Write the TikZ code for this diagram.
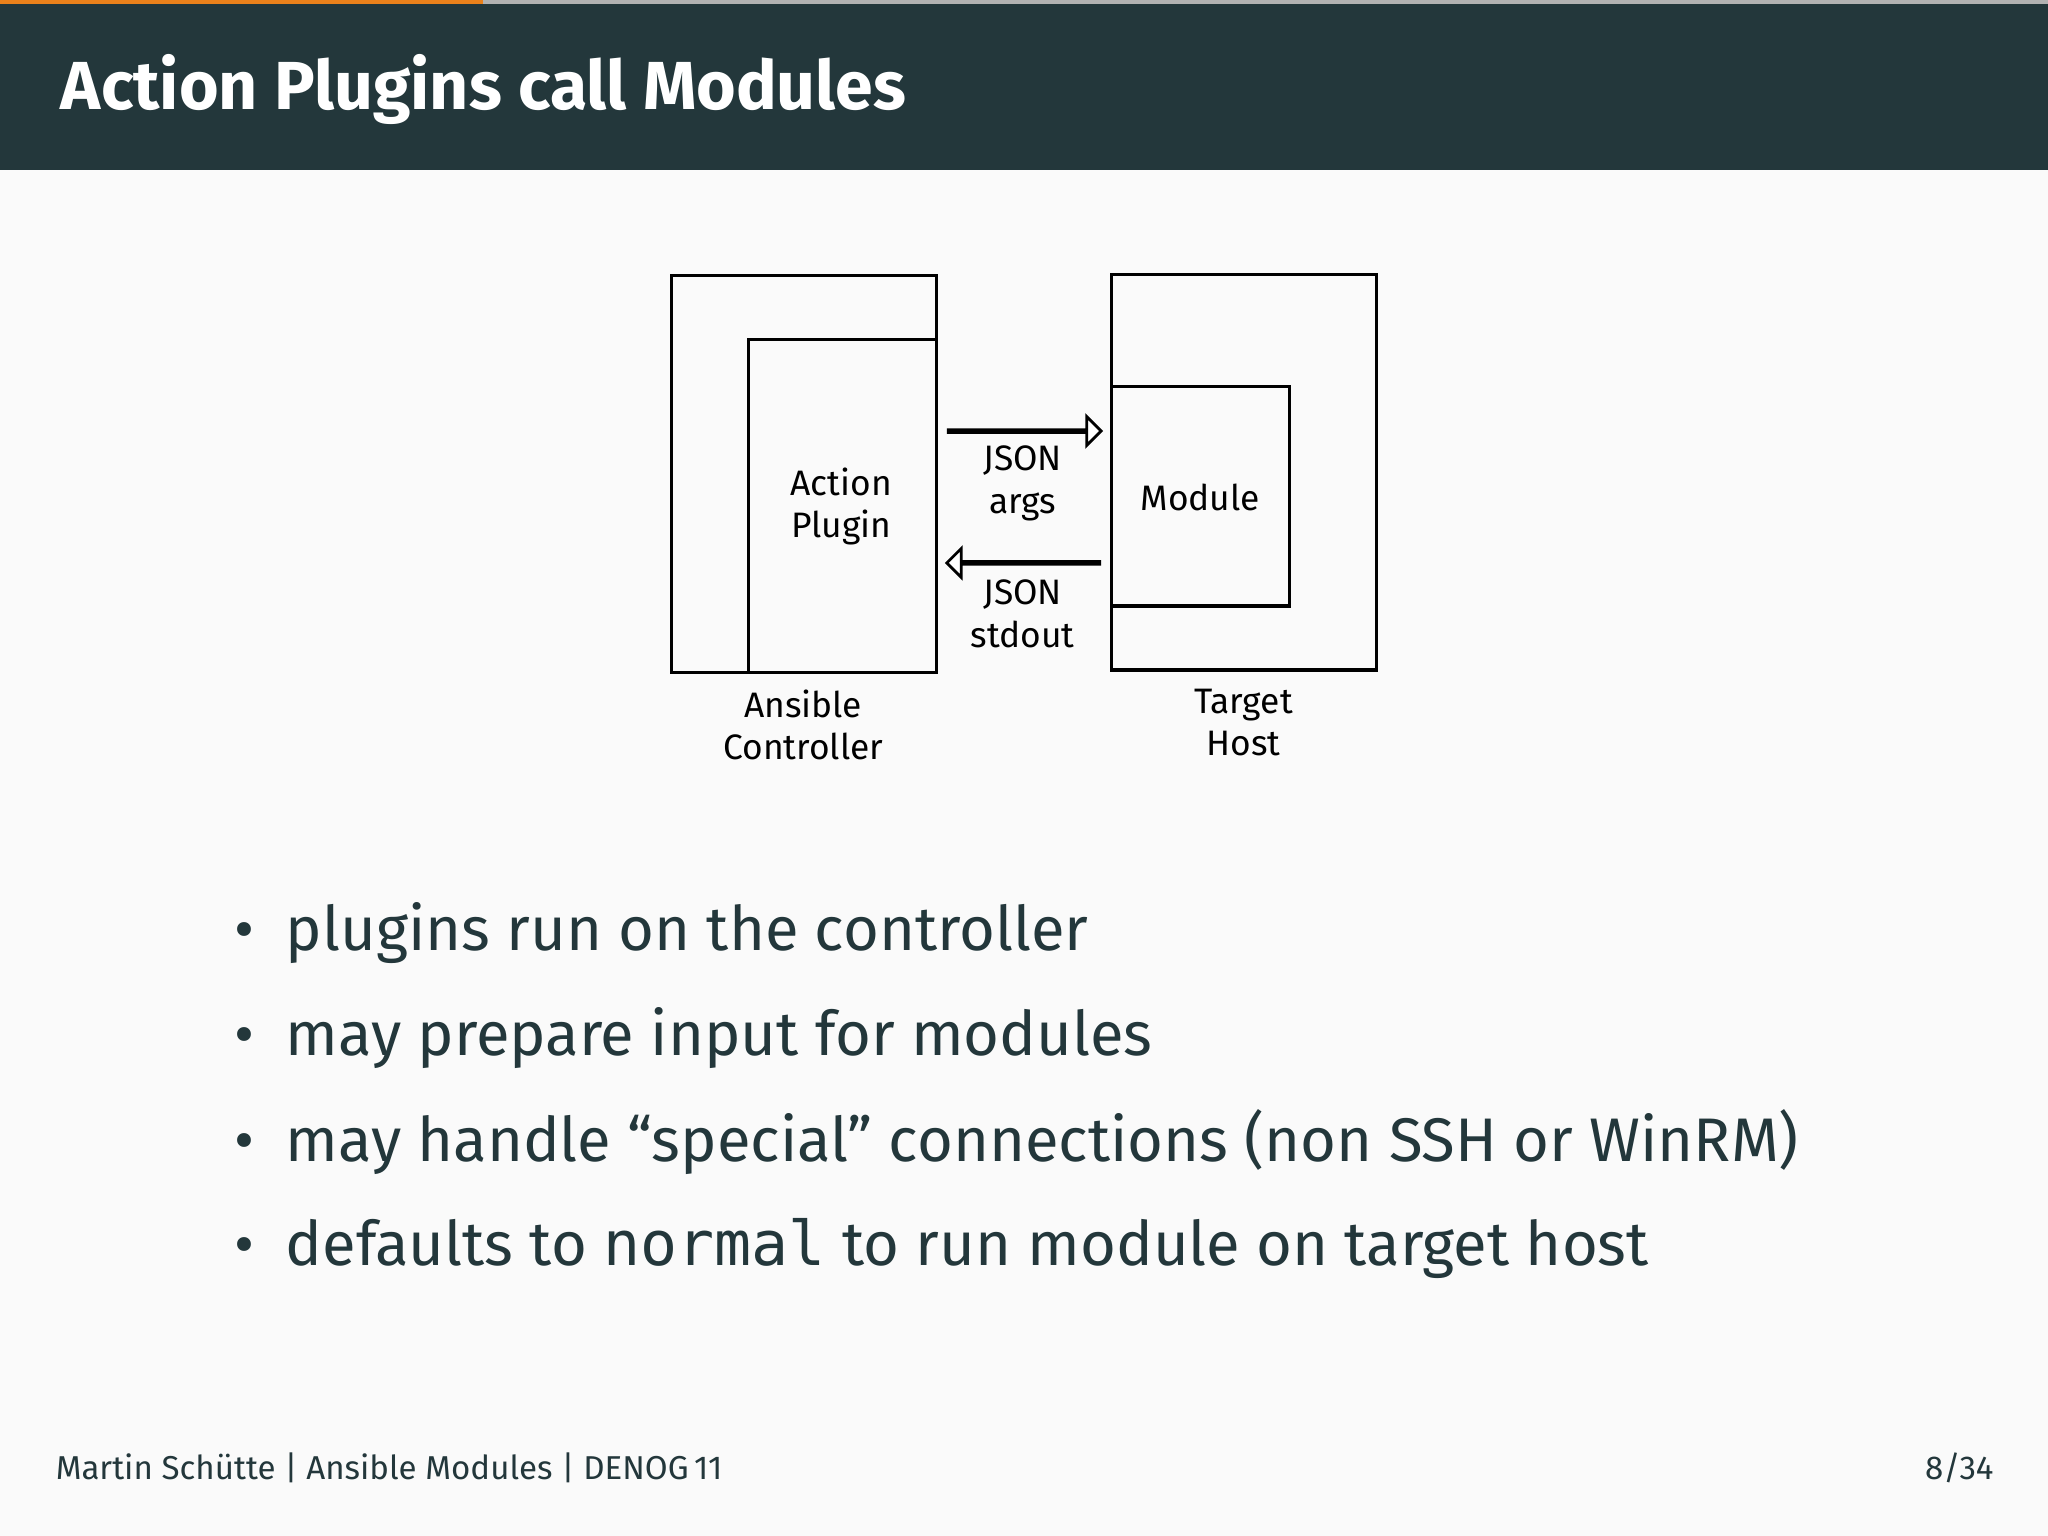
\documentclass[tikz,border=0pt]{standalone}
\usepackage{fontspec}
\setmainfont{Fira Sans}
\setmonofont{DejaVu Sans Mono}
\usetikzlibrary{shapes.arrows}
\definecolor{bgcol}{HTML}{FAFAFA}
\definecolor{barcol}{HTML}{23373B}
\definecolor{progcol}{HTML}{EB811B}
\tikzstyle{boxes} = [rectangle, draw=black, line width=0.7pt]
\tikzstyle{label} = [align=center, font=\fontsize{7.7}{9.2}\selectfont, text=black]
\tikzstyle{flow} = [single arrow, draw=black, line width=0.6pt, fill=white, minimum height=1.17cm, minimum width=0.09cm, single arrow head extend=0.1cm, inner sep=0pt]
\tikzstyle{bullet} = [anchor=base west, inner sep=0pt, font=\fontsize{13.4}{16}\selectfont, text=barcol]
\begin{document}
\begin{tikzpicture}[x=0.01cm, y=-0.01cm]
    \fill[bgcol] (0,0) rectangle (1568,1176);
    \useasboundingbox (0,0) rectangle (1568,1176);
    \fill[barcol] (0,0) rectangle (1568,130);
    \fill[progcol] (0,0) rectangle (370,3);
    \fill[gray!60] (370,0) rectangle (1568,3);
    \node (title) [anchor=base west, inner sep=0pt, text=white, font=\fontsize{14.8}{18}\selectfont\bfseries] at (46,84) {Action Plugins call Modules};

    % controller side
    \draw[boxes] (514,211) rectangle (717,515);
    \draw[boxes] (573,515) -- (573,260) -- (717,260);
    \node (plugin) [label] at (644,388) {Action\\Plugin};
    \node (ctrl) [label] at (615,555) {Ansible\\Controller};

    % target side
    \draw[boxes] (851,210) rectangle (1054,513);
    \draw[boxes] (851,296) rectangle (987,464);
    \node (module) [label] at (919,381) {Module};
    \node (host) [label] at (952,553) {Target\\Host};

    % data flow
    \node (args) [flow] at (784,330) {};
    \node (stdout) [flow, shape border rotate=180] at (784,431) {};
    \node (argsText) [label] at (783,370) {JSON\\args};
    \node (stdoutText) [label] at (783,470) {JSON\\stdout};

    % bullets
    \foreach \y/\txt in {728/plugins run on the controller,
                         808/may prepare input for modules,
                         889/may handle “special” connections (non SSH or WinRM),
                         969/defaults to \texttt{normal} to run module on target host} {
        \node [bullet] at (179,\y) {\textbullet};
        \node [bullet] at (218,\y) {\txt};
    }

    % footer
    \node (foot) [anchor=base west, inner sep=0pt, text=barcol, font=\fontsize{7.2}{9}\selectfont] at (42,1133) {Martin Schütte | Ansible Modules | DENOG\,11};
    \node (page) [anchor=base east, inner sep=0pt, text=barcol, font=\fontsize{7.2}{9}\selectfont] at (1527,1133) {8/34};
\end{tikzpicture}
\end{document}
